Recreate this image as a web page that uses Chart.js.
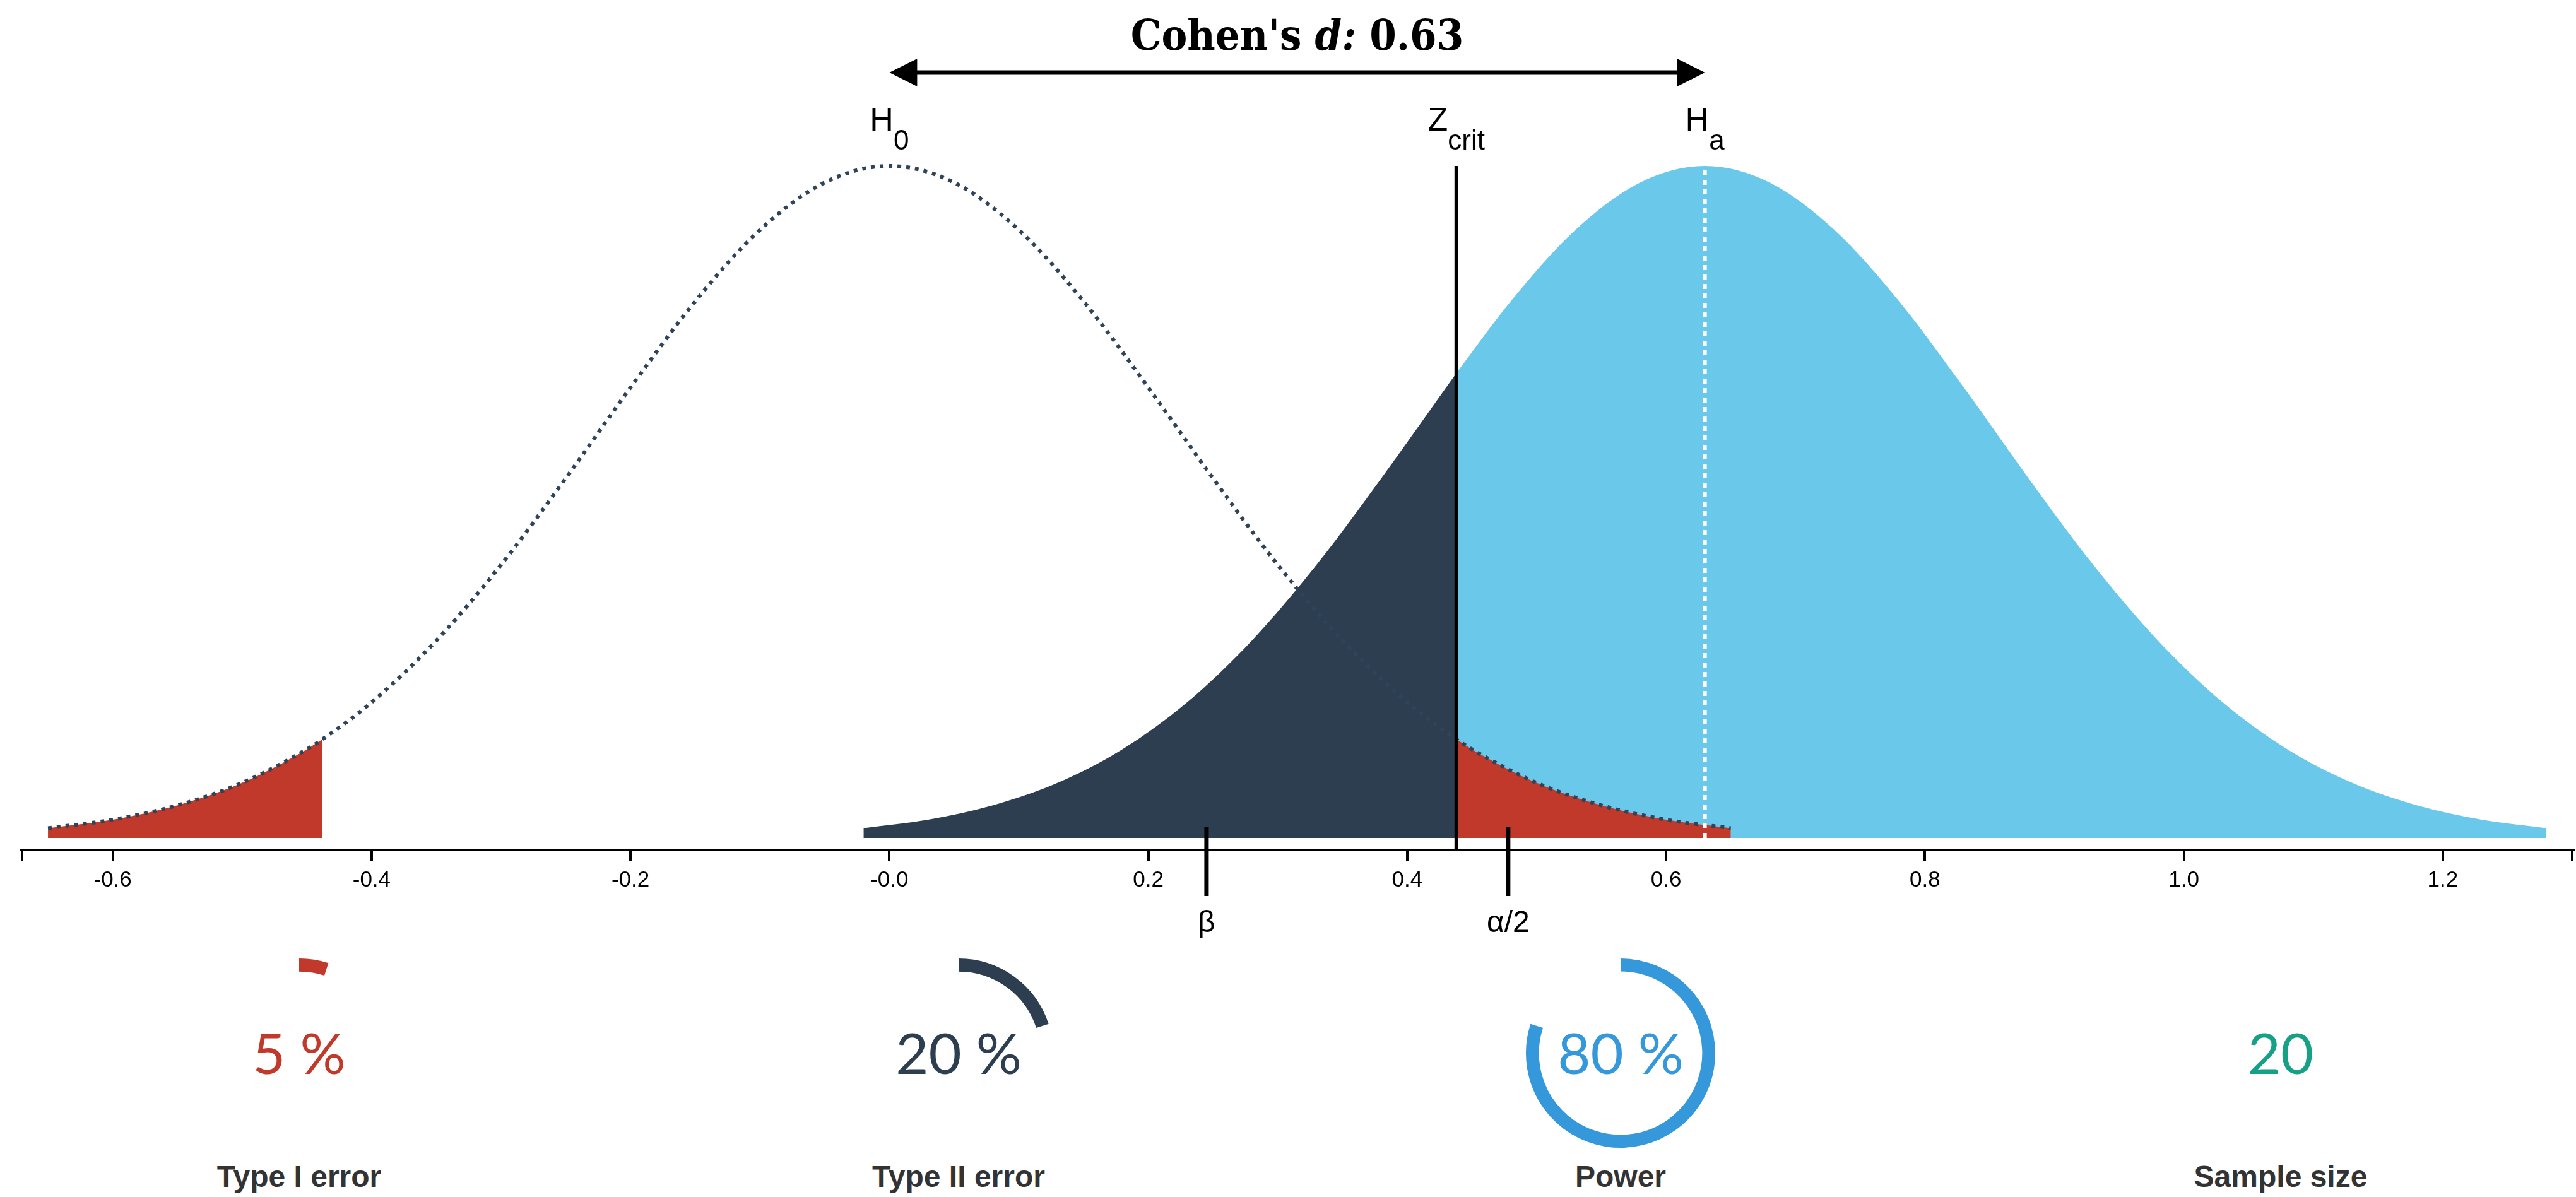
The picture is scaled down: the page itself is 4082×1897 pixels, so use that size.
<!DOCTYPE html>
<html>
<head>
<meta charset="utf-8">
<script src="https://cdn.jsdelivr.net/npm/chart.js"></script>
<style>
html, body { margin: 0; padding: 0; background: #fff; width: 4082px; height: 1897px; overflow: hidden; }
#main { position: absolute; left: 0; top: 0; width: 4082px; height: 1500px; }
.gauge { position: absolute; width: 320px; height: 320px; }
.val { position: absolute; width: 400px; text-align: center; font-family: Lato, "Open Sans", sans-serif; font-size: 90px; line-height: 90px; white-space: pre; }
.lab { position: absolute; width: 600px; text-align: center; font-family: "Liberation Sans", Arial, sans-serif; font-weight: bold; font-size: 48px; line-height: 48px; color: #333; }
</style>
</head>
<body>
<div id="main"><canvas id="chart1"></canvas></div>
<script>
// effect size and critical value
const effectSize = 0.63;
const zCrit = 0.438;
const betaMarkX = 0.245;
const alphaMarkX = 0.478;

// x axis
const xMin = -0.671, xMax = 1.301;
const xTicks = [-0.6, -0.4, -0.2, 0, 0.2, 0.4, 0.6, 0.8, 1.0, 1.2];
const xTickLabels = ['-0.6', '-0.4', '-0.2', '-0.0', '0.2', '0.4', '0.6', '0.8', '1.0', '1.2'];

// null distribution (dotted curve)
const h0X = [-0.65, -0.6, -0.55, -0.5, -0.45, -0.438, -0.4, -0.35, -0.3, -0.25, -0.2, -0.15, -0.1, -0.05, 0,
  0.05, 0.1, 0.15, 0.2, 0.25, 0.3, 0.35, 0.4, 0.438, 0.45, 0.5, 0.55, 0.6, 0.65];
const h0Y = [0.0261, 0.0487, 0.0866, 0.1464, 0.2355, 0.2620, 0.3602, 0.5241, 0.7253, 0.9549, 1.1958, 1.4246, 1.6142, 1.7400, 1.784,
  1.7400, 1.6142, 1.4246, 1.1958, 0.9549, 0.7253, 0.5241, 0.3602, 0.2620, 0.2355, 0.1464, 0.0866, 0.0487, 0.0261];

// alternative distribution (filled curve)
const haX = [-0.02, 0.03, 0.08, 0.13, 0.18, 0.23, 0.28, 0.33, 0.38, 0.438, 0.48, 0.53, 0.58, 0.63,
  0.68, 0.73, 0.78, 0.83, 0.88, 0.93, 0.98, 1.03, 1.08, 1.13, 1.18, 1.23, 1.28];
const haY = [0.0261, 0.0487, 0.0866, 0.1464, 0.2355, 0.3602, 0.5241, 0.7253, 0.9549, 1.234, 1.4246, 1.6142, 1.7400, 1.784,
  1.7400, 1.6142, 1.4246, 1.1958, 0.9549, 0.7253, 0.5241, 0.3602, 0.2355, 0.1464, 0.0866, 0.0487, 0.0261];

// gauges below the chart
const gaugeLabels = ['Type I error', 'Type II error', 'Power', 'Sample size'];
const gaugeValues = [5, 20, 80, 20];
const gaugeText = ['5 %', '20 %', '80 %', '20'];
const gaugeHasArc = [true, true, true, false];

const red = '#c0392b', navy = '#2c3e50', sky = '#6ac8ea', blue = '#3498db', green = '#16a085';
const gaugeColors = [red, navy, blue, green];
const gaugeX = [474, 1519, 2568, 3614];
const gaugeY = 1669;

const yMin = -0.0318, yMax = 1.8007;
const peak = Math.max(...haY);

function pts(xs, ys, keep) {
  return xs.map((v, i) => ({x: v, y: ys[i]})).filter(p => keep(p.x));
}

function area(data, color) {
  return {data: data, fill: 'origin', backgroundColor: color, borderColor: 'rgba(0,0,0,0)', borderWidth: 0,
    pointRadius: 0, cubicInterpolationMode: 'monotone'};
}

const sansFont = '"Liberation Sans", Arial, sans-serif';

// subscript labels, H0 / Zcrit / Ha
function subLabel(ctx, px, main, sub) {
  ctx.font = '52px ' + sansFont;
  const w1 = ctx.measureText(main).width;
  ctx.font = '44px ' + sansFont;
  const w2 = ctx.measureText(sub).width;
  const left = px - (w1 + w2) / 2;
  ctx.textAlign = 'left';
  ctx.textBaseline = 'alphabetic';
  ctx.font = '52px ' + sansFont;
  ctx.fillText(main, left, 207);
  ctx.font = '44px ' + sansFont;
  ctx.fillText(sub, left + w1, 237);
}

const annotations = {
  id: 'annotations',
  afterDraw(chart) {
    const ctx = chart.ctx;
    const x = chart.scales.x;
    const area = chart.chartArea;
    const x0 = x.getPixelForValue(0), x1 = x.getPixelForValue(effectSize);
    ctx.save();
    ctx.fillStyle = '#000';
    ctx.strokeStyle = '#000';

    // title
    const serif = '"DejaVu Serif Condensed", "DejaVu Serif", serif';
    const parts = [['Cohen\'s ', 'bold'], ['d:', 'italic bold'], [' 0.63', 'bold']];
    let tw = 0;
    parts.forEach(p => { ctx.font = p[1] + ' 68px ' + serif; p.push(ctx.measureText(p[0]).width); tw += p[2]; });
    let tx = (x0 + x1) / 2 - tw / 2;
    ctx.textAlign = 'left';
    ctx.textBaseline = 'alphabetic';
    parts.forEach(p => { ctx.font = p[1] + ' 68px ' + serif; ctx.fillText(p[0], tx, 79); tx += p[2]; });

    // double arrow
    const ay = 115, head = 44;
    ctx.lineWidth = 7;
    ctx.beginPath();
    ctx.moveTo(x0 + head - 2, ay);
    ctx.lineTo(x1 - head + 2, ay);
    ctx.stroke();
    ctx.beginPath();
    ctx.moveTo(x0, ay); ctx.lineTo(x0 + head, ay - 22); ctx.lineTo(x0 + head, ay + 22); ctx.closePath();
    ctx.moveTo(x1, ay); ctx.lineTo(x1 - head, ay - 22); ctx.lineTo(x1 - head, ay + 22); ctx.closePath();
    ctx.fill();

    subLabel(ctx, x0, 'H', '0');
    subLabel(ctx, x.getPixelForValue(zCrit), 'Z', 'crit');
    subLabel(ctx, x1, 'H', 'a');

    // beta and alpha/2 marks
    ctx.lineWidth = 7;
    [[betaMarkX, 'β'], [alphaMarkX, 'α/2']].forEach(m => {
      const px = x.getPixelForValue(m[0]);
      ctx.beginPath();
      ctx.moveTo(px, area.bottom - 37);
      ctx.lineTo(px, area.bottom + 73);
      ctx.stroke();
      ctx.font = '48px ' + sansFont;
      ctx.textAlign = 'center';
      ctx.fillText(m[1], px, area.bottom + 130);
    });

    // outer ticks at both ends of the axis
    ctx.lineWidth = 4;
    ctx.beginPath();
    ctx.moveTo(area.left + 2, area.bottom); ctx.lineTo(area.left + 2, area.bottom + 18);
    ctx.moveTo(area.right - 2, area.bottom); ctx.lineTo(area.right - 2, area.bottom + 18);
    ctx.stroke();
    ctx.restore();
  }
};

const datasets = [
  {data: [{x: zCrit, y: yMin}, {x: zCrit, y: peak}], borderColor: '#000', borderWidth: 6, pointRadius: 0, fill: false},
  {data: [{x: effectSize, y: 0}, {x: effectSize, y: peak}], borderColor: '#fff', borderWidth: 6, borderDash: [8, 7], pointRadius: 0, fill: false},
  {data: pts(h0X, h0Y, () => true), borderColor: '#2f4459', borderWidth: 6, borderDash: [6, 8], pointRadius: 0, fill: false, cubicInterpolationMode: 'monotone'},
  area(pts(h0X, h0Y, v => v >= zCrit), red),
  area(pts(h0X, h0Y, v => v <= -zCrit), red),
  area(pts(haX, haY, v => v >= zCrit), sky),
  area(pts(haX, haY, v => v <= zCrit), navy)
];

const myChart = new Chart(document.getElementById('chart1'), {
  type: 'line',
  data: {datasets: datasets},
  options: {
    responsive: true,
    maintainAspectRatio: false,
    animation: false,
    events: [],
    layout: {padding: {top: 253, left: 33, right: 4, bottom: 0}},
    plugins: {legend: {display: false}, tooltip: {enabled: false}},
    scales: {
      x: {
        type: 'linear',
        min: xMin,
        max: xMax,
        afterBuildTicks: s => { s.ticks = xTicks.map(v => ({value: v})); },
        afterFit: s => { s.height = 153; },
        grid: {drawOnChartArea: false, drawTicks: true, tickLength: 18, color: '#000', lineWidth: 4},
        border: {display: true, color: '#000', width: 4},
        ticks: {
          color: '#000', padding: 9, maxRotation: 0, autoSkip: false,
          font: {family: sansFont, size: 35},
          callback: (v, i) => xTickLabels[i]
        }
      },
      y: {display: false, min: yMin, max: yMax}
    }
  },
  plugins: [annotations]
});

// gauges
gaugeLabels.forEach((lab, i) => {
  const cx = gaugeX[i];
  const wrap = document.createElement('div');
  wrap.className = 'gauge';
  wrap.style.left = (cx - 160) + 'px';
  wrap.style.top = (gaugeY - 160) + 'px';
  const c = document.createElement('canvas');
  wrap.appendChild(c);
  document.body.appendChild(wrap);
  if (gaugeHasArc[i]) {
    new Chart(c, {
      type: 'doughnut',
      data: {datasets: [{data: [gaugeValues[i], 100 - gaugeValues[i]],
        backgroundColor: [gaugeColors[i], 'rgba(0,0,0,0)'], borderWidth: 0, hoverOffset: 0, offset: 0}]},
      options: {responsive: true, maintainAspectRatio: false, animation: false, events: [],
        radius: 150, cutout: 138,
        plugins: {legend: {display: false}, tooltip: {enabled: false}}}
    });
  }
  const val = document.createElement('div');
  val.className = 'val';
  val.style.left = (cx - 200) + 'px';
  val.style.top = (gaugeY - 47) + 'px';
  val.style.color = gaugeColors[i];
  val.textContent = gaugeText[i];
  document.body.appendChild(val);
  const l = document.createElement('div');
  l.className = 'lab';
  l.style.left = (cx - 300) + 'px';
  l.style.top = '1841px';
  l.textContent = lab;
  document.body.appendChild(l);
});
</script>
</body>
</html>
